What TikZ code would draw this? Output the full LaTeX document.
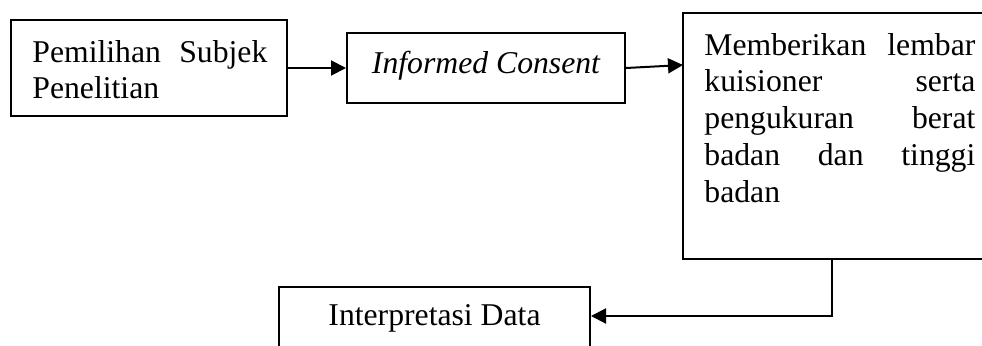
\documentclass[tikz,border=0pt]{standalone}
\usepackage{fontspec}
\setmainfont{Liberation Serif}
\usetikzlibrary{arrows.meta}
\begin{document}
\begin{tikzpicture}[x=0.5pt,y=-0.5pt,
  box/.style={draw=black,line width=1pt,inner sep=0pt,rectangle},
  txt/.style={inner sep=0pt,font=\fontsize{15.85}{18.4}\selectfont},
  arrow/.style={line width=1pt,-{Triangle[length=7.5pt,width=7.5pt]}}]
\useasboundingbox (0,0) rectangle (982,345);
\clip (0,0) rectangle (982,345);
% boxes
\node[box,minimum width=138pt,minimum height=48pt] (b1) at (149,68) {};
\node[box,minimum width=139pt,minimum height=35pt] (b2) at (486,68) {};
\node[box,minimum width=156.5pt,minimum height=123pt] (b3) at (839.5,136) {};
\node[box,minimum width=155.5pt,minimum height=46.5pt] (b4) at (434.5,333.5) {};
% texts
\node[txt,anchor=base west] (t1) at (32,62) {\parbox[t]{117.5pt}{%
  \makebox[\linewidth][s]{Pemilihan Subjek}\\Penelitian}};
\node[txt,anchor=base] (t2) at (486,73) {\itshape Informed Consent};
\node[txt,anchor=base west] (t3) at (704,55) {\parbox[t]{135.5pt}{%
  \makebox[\linewidth][s]{Memberikan lembar}\\
  \makebox[\linewidth][s]{kuisioner serta}\\
  \makebox[\linewidth][s]{pengukuran berat}\\
  \makebox[\linewidth][s]{badan dan tinggi}\\
  badan}};
\node[txt,anchor=base] (t4) at (434.5,325) {Interpretasi Data};
% connectors
\coordinate (p3) at (683,65);
\coordinate (d) at (832,316);
\draw[arrow] (b1.east) -- (b2.west);
\draw[arrow] (b2.east) -- (p3);
\draw[arrow] (b3.south -| d) -- (d) -- (b4.east |- d);
\end{tikzpicture}
\end{document}
